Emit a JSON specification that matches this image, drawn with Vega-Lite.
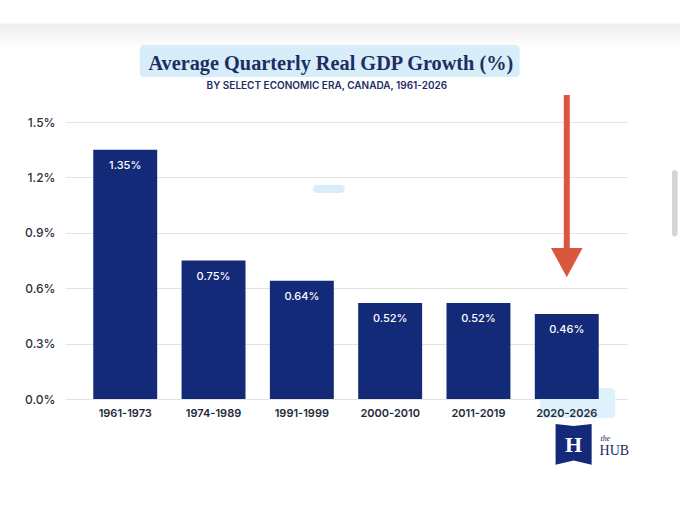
{
  "$schema": "https://vega.github.io/schema/vega-lite/v6.json",
  "width": 562,
  "height": 277,
  "autosize": {"type": "none"},
  "padding": {"left": 65, "top": 122, "right": 53, "bottom": 124},
  "background": "#ffffff",
  "config": {
    "view": {"stroke": null},
    "font": "Inter"
  },
  "datasets": {
    "growth": [
      {"era": "1961-1973", "growth": 1.35, "label": "1.35%"},
      {"era": "1974-1989", "growth": 0.75, "label": "0.75%"},
      {"era": "1991-1999", "growth": 0.64, "label": "0.64%"},
      {"era": "2000-2010", "growth": 0.52, "label": "0.52%"},
      {"era": "2011-2019", "growth": 0.52, "label": "0.52%"},
      {"era": "2020-2026", "growth": 0.46, "label": "0.46%"}
    ],
    "decor": [
      {"item": "top band", "fx0": -0.12, "fx1": 1.1, "y0": 2.04, "y1": 1.9},
      {"item": "title highlight", "fx0": 0.133, "fx1": 0.809, "y0": 1.917, "y1": 1.744},
      {"item": "small highlight", "fx0": 0.441, "fx1": 0.498, "y0": 1.16, "y1": 1.115},
      {"item": "label highlight", "fx0": 0.845, "fx1": 0.979, "y0": 0.06, "y1": -0.103},
      {"item": "scrollbar", "fx0": 1.08, "fx1": 1.09, "y0": 1.24, "y1": 0.88}
    ],
    "titles": [
      {"role": "title", "fx": 0.473, "y": 1.782, "text": "Average Quarterly Real GDP Growth (%)"},
      {"role": "subtitle", "fx": 0.466, "y": 1.676, "text": "BY SELECT ECONOMIC ERA, CANADA, 1961-2026"}
    ],
    "arrow": [
      {"era": "2020-2026", "top": 1.646, "bottom": 0.8, "head": 0.745}
    ],
    "logo": [
      {"fx": 0.905, "y": -0.25, "mark": "H", "word": "HUB", "small": "the"}
    ]
  },
  "layer": [
    {
      "encoding": {
        "x": {"type": "quantitative", "scale": {"domain": [0, 1], "nice": false, "zero": false}, "axis": null}
      },
      "layer": [
        {
          "data": {"name": "decor"},
          "transform": [{"filter": "datum.item == 'top band'"}],
          "mark": {
            "type": "rect",
            "color": {
              "gradient": "linear", "x1": 0, "y1": 0, "x2": 0, "y2": 1,
              "stops": [
                {"offset": 0, "color": "#ffffff"},
                {"offset": 0.1, "color": "#eeeeee"},
                {"offset": 1, "color": "#ffffff"}
              ]
            }
          },
          "encoding": {
            "x": {"field": "fx0", "type": "quantitative"},
            "x2": {"field": "fx1"},
            "y": {"field": "y0", "type": "quantitative"},
            "y2": {"field": "y1"}
          }
        },
        {
          "data": {"name": "decor"},
          "transform": [{"filter": "datum.item != 'top band'"}],
          "mark": {"type": "rect", "cornerRadius": 4},
          "encoding": {
            "x": {"field": "fx0", "type": "quantitative"},
            "x2": {"field": "fx1"},
            "y": {"field": "y0", "type": "quantitative"},
            "y2": {"field": "y1"},
            "color": {
              "field": "item", "type": "nominal", "legend": null,
              "scale": {
                "domain": ["title highlight", "small highlight", "label highlight", "scrollbar"],
                "range": ["#d7eefa", "#d7eefa", "#dff2fb", "#d4d4d4"]
              }
            }
          }
        },
        {
          "data": {"name": "titles"},
          "transform": [{"filter": "datum.role == 'title'"}],
          "mark": {"type": "text", "font": "Liberation Serif", "fontWeight": "bold", "fontSize": 20.3, "color": "#1e2d5f", "align": "center", "baseline": "alphabetic"},
          "encoding": {
            "x": {"field": "fx", "type": "quantitative"},
            "y": {"field": "y", "type": "quantitative"},
            "text": {"field": "text"}
          }
        },
        {
          "data": {"name": "titles"},
          "transform": [{"filter": "datum.role == 'subtitle'"}],
          "mark": {"type": "text", "font": "Inter", "fontWeight": 600, "fontSize": 10, "color": "#1e2d5f", "align": "center", "baseline": "alphabetic"},
          "encoding": {
            "x": {"field": "fx", "type": "quantitative"},
            "y": {"field": "y", "type": "quantitative"},
            "text": {"field": "text"}
          }
        },
        {
          "data": {"name": "logo"},
          "mark": {"type": "point", "shape": "M-0.85,-1L0,-0.9L0.85,-1L0.85,0.92L0,0.72L-0.85,0.92Z", "filled": true, "color": "#13297a", "size": 1800, "opacity": 1},
          "encoding": {
            "x": {"field": "fx", "type": "quantitative"},
            "y": {"field": "y", "type": "quantitative"}
          }
        },
        {
          "data": {"name": "logo"},
          "mark": {"type": "text", "font": "Liberation Serif", "fontWeight": "bold", "fontSize": 22, "color": "#ffffff", "baseline": "middle", "dy": 0},
          "encoding": {
            "x": {"field": "fx", "type": "quantitative"},
            "y": {"field": "y", "type": "quantitative"},
            "text": {"field": "mark"}
          }
        },
        {
          "data": {"name": "logo"},
          "mark": {"type": "text", "font": "Liberation Serif", "fontSize": 14, "color": "#1b2a5e", "align": "left", "baseline": "alphabetic", "dx": 26, "dy": 10},
          "encoding": {
            "x": {"field": "fx", "type": "quantitative"},
            "y": {"field": "y", "type": "quantitative"},
            "text": {"field": "word"}
          }
        },
        {
          "data": {"name": "logo"},
          "mark": {"type": "text", "font": "Liberation Serif", "fontStyle": "italic", "fontSize": 8, "color": "#1b2a5e", "align": "left", "baseline": "alphabetic", "dx": 27, "dy": -4},
          "encoding": {
            "x": {"field": "fx", "type": "quantitative"},
            "y": {"field": "y", "type": "quantitative"},
            "text": {"field": "small"}
          }
        }
      ]
    },
    {
      "encoding": {
        "x": {
          "field": "era", "type": "nominal", "sort": null, "title": null,
          "scale": {"paddingInner": 0.276, "paddingOuter": 0.32},
          "axis": {
            "labelAngle": 0, "domain": false, "ticks": false, "zindex": 1,
            "labelPadding": 8, "labelFontSize": 11, "labelFontWeight": 600,
            "labelColor": "#222a3a", "labelFont": "Inter"
          }
        }
      },
      "layer": [
        {
          "data": {"name": "growth"},
          "mark": {"type": "bar", "color": "#132a78"},
          "encoding": {
            "y": {
              "field": "growth", "type": "quantitative", "title": null,
              "scale": {"domain": [0, 1.5], "nice": false},
              "axis": {
                "values": [0, 0.3, 0.6, 0.9, 1.2, 1.5],
                "labelExpr": "format(datum.value, '.1f') + '%'",
                "domain": false, "ticks": false, "labelPadding": 10,
                "labelFontSize": 12, "labelFontWeight": 500, "labelColor": "#2a3140",
                "labelFont": "Inter",
                "gridColor": "#e3e3e3", "gridWidth": 1.2
              }
            }
          }
        },
        {
          "data": {"name": "growth"},
          "mark": {"type": "text", "color": "#ffffff", "baseline": "middle", "dy": 16, "fontSize": 11, "fontWeight": 500, "font": "Inter"},
          "encoding": {
            "y": {"field": "growth", "type": "quantitative"},
            "text": {"field": "label"}
          }
        },
        {
          "data": {"name": "arrow"},
          "mark": {"type": "rule", "color": "#d9573f", "strokeWidth": 6},
          "encoding": {
            "y": {"field": "top", "type": "quantitative"},
            "y2": {"field": "bottom"}
          }
        },
        {
          "data": {"name": "arrow"},
          "mark": {"type": "point", "shape": "M-1,-0.85L1,-0.85L0,1Z", "filled": true, "color": "#d9573f", "size": 1000, "opacity": 1},
          "encoding": {
            "y": {"field": "head", "type": "quantitative"}
          }
        }
      ]
    }
  ],
  "resolve": {"scale": {"x": "independent"}}
}
